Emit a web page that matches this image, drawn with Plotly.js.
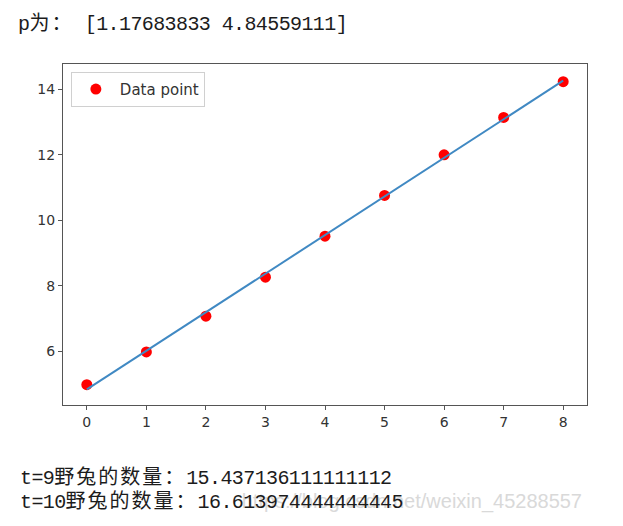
<!DOCTYPE html>
<html>
<head>
<meta charset="utf-8">
<script src="https://cdn.plot.ly/plotly-3.0.1.min.js"></script>
<style>
  html, body { margin: 0; padding: 0; background: #fff; }
  #wrap { position: relative; width: 623px; height: 526px; overflow: hidden; }
  #chart { position: absolute; left: 0; top: 0; width: 623px; height: 526px; }
  .out {
    position: absolute; left: 0; white-space: pre; color: #1c1c1c;
    font-family: "Liberation Mono", "Noto Sans CJK SC", monospace;
    font-size: 20px; letter-spacing: -0.6px; line-height: 20px; height: 20px;
  }
  .cjk {
    display: inline-block; height: 20px; line-height: 20px; overflow: visible;
    font-family: "Noto Sans CJK SC", sans-serif; font-size: 20px; letter-spacing: 2px;
  }
  #mark {
    position: absolute; right: 41px; top: 491px; white-space: pre;
    font-family: "Liberation Sans", Arial, sans-serif; font-size: 20px;
    color: #d9d9d9; line-height: 20px; height: 20px;
  }
</style>
</head>
<body>
<div id="wrap">
  <div id="chart"></div>
  <div id="mark"></div>
  <div class="out" id="line0" style="left:18px; top:12px;"></div>
  <div class="out" id="line1" style="left:20px; top:466px;"></div>
  <div class="out" id="line2" style="left:20px; top:490px;"></div>
</div>
<script>
// observed times and hare counts
const t = [0, 1, 2, 3, 4, 5, 6, 7, 8];
const counts = [4.99, 5.99, 7.08, 8.27, 9.52, 10.76, 12.0, 13.14, 14.23];

// fitted coefficients [slope, intercept]
const p = [1.17683833, 4.84559111];
const pText = "[1.17683833 4.84559111]";

// printed predictions
const predT = [9, 10];
const predText = ["15.437136111111112", "16.613974444444445"];

const xTicks = [0, 1, 2, 3, 4, 5, 6, 7, 8];
const yTicks = [6, 8, 10, 12, 14];
const legendName = "Data point";
const markText = "https://blog.csdn.net/weixin_45288557";

// fitted line evaluated at each observation time
const fitY = t.map(v => p[0] * v + p[1]);

const traces = [
  {
    x: t, y: counts, type: "scatter", mode: "markers", name: legendName,
    marker: { color: "#ff0000", size: 11 },
    showlegend: true
  },
  {
    x: t, y: fitY, type: "scatter", mode: "lines", name: "fit",
    line: { color: "#4089c3", width: 2 },
    showlegend: false
  }
];

const axisCommon = {
  showline: true, mirror: true, linecolor: "#555", linewidth: 1,
  ticks: "outside", ticklen: 4, tickwidth: 1, tickcolor: "#555",
  showgrid: false, zeroline: false,
  tickfont: { family: "DejaVu Sans", size: 14, color: "#333" }
};

const layout = {
  width: 623, height: 526,
  margin: { l: 63, r: 36, t: 64, b: 121 },
  paper_bgcolor: "rgba(0,0,0,0)", plot_bgcolor: "#fff",
  xaxis: Object.assign({}, axisCommon, {
    range: [-0.4, 8.4], tickvals: xTicks, ticktext: xTicks.map(String)
  }),
  yaxis: Object.assign({}, axisCommon, {
    range: [4.37, 14.77], tickvals: yTicks, ticktext: yTicks.map(String)
  }),
  showlegend: true,
  legend: {
    x: 0.015, y: 0.977, xanchor: "left", yanchor: "top",
    itemwidth: 38,
    bgcolor: "rgba(255,255,255,0.9)", bordercolor: "#d0d0d0", borderwidth: 1,
    font: { family: "DejaVu Sans", size: 15, color: "#333" }
  }
};

Plotly.newPlot("chart", traces, layout, { staticPlot: true, displayModeBar: false });

// console output printed around the figure
function cjk(s) { return '<span class="cjk">' + s + '</span>'; }
document.getElementById("line0").innerHTML = "p" + cjk("为：") + " " + pText;
document.getElementById("line1").innerHTML = "t=" + predT[0] + cjk("野兔的数量：") + predText[0];
document.getElementById("line2").innerHTML = "t=" + predT[1] + cjk("野兔的数量：") + predText[1];
document.getElementById("mark").textContent = markText;
</script>
</body>
</html>
